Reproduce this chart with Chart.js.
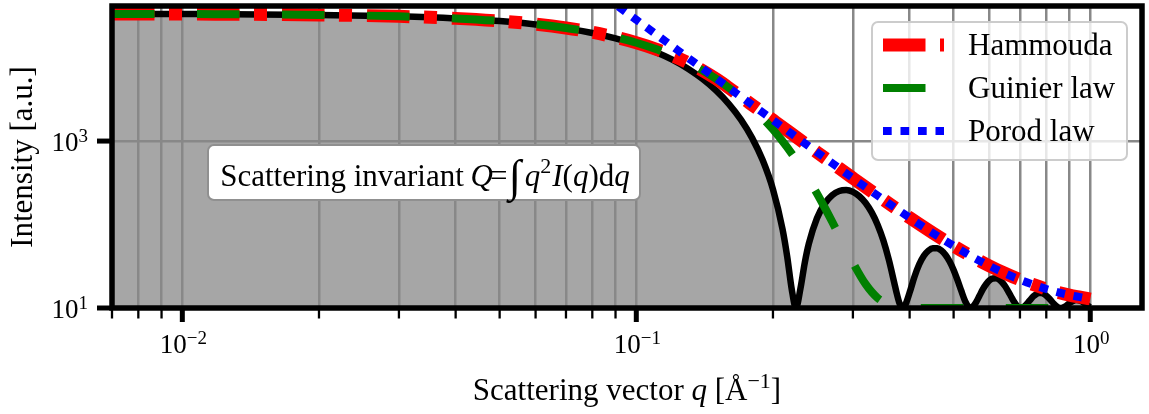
<!DOCTYPE html>
<html>
<head>
<meta charset="utf-8">
<script src="https://cdn.jsdelivr.net/npm/chart.js@4.4.0/dist/chart.umd.min.js"></script>
<style>
  html, body { margin: 0; padding: 0; background: #fff; }
  #wrap { width: 1149px; height: 414px; position: relative; }
</style>
</head>
<body>
<div id="wrap"><canvas id="myChart"></canvas></div>
<script>
// --- 1. Data (q in 1/Å, intensity in a.u.) ---
const qSphere = [0.007, 0.01, 0.02, 0.03, 0.04, 0.05, 0.06, 0.07, 0.08, 0.09, 0.10, 0.11, 0.12, 0.13, 0.14, 0.15,
  0.16, 0.17, 0.18, 0.19, 0.20, 0.21, 0.215, 0.22, 0.2247, 0.23, 0.235, 0.24, 0.25, 0.26, 0.27, 0.28, 0.29, 0.30,
  0.31, 0.32, 0.33, 0.34, 0.35, 0.36, 0.37, 0.375, 0.38, 0.3863, 0.39, 0.40, 0.41, 0.42, 0.43, 0.44, 0.45, 0.46,
  0.47, 0.48, 0.49, 0.50, 0.51, 0.52, 0.53, 0.54, 0.5452, 0.55, 0.56, 0.57, 0.58, 0.59, 0.60, 0.61, 0.62, 0.63,
  0.64, 0.65, 0.66, 0.67, 0.68, 0.69, 0.70, 0.7033, 0.71, 0.72, 0.73, 0.74, 0.75, 0.76, 0.77, 0.78, 0.79, 0.80,
  0.81, 0.82, 0.83, 0.84, 0.85, 0.861, 0.87, 0.88, 0.89, 0.90, 0.91, 0.92, 0.93, 0.94, 0.95, 0.96, 0.97, 0.98,
  0.99, 1.00];
const iSphere = [33389, 33253, 32462, 31180, 29459, 27365, 24979, 22390, 19689, 16965, 14303, 11776, 9446, 7358, 5542, 4014,
  2773, 1804, 1085, 584, 264, 87.5, 41.1, 16.7, 10, 17.3, 34.8, 59.5, 119.1, 178.1, 224.6, 252.0, 258.5, 245.9,
  218.2, 180.9, 139.6, 99.5, 64.7, 37.8, 20.1, 14.7, 11.4, 10, 10.45, 15.3, 23.7, 33.4, 42.2, 48.7, 52.1, 52.0,
  48.8, 43.2, 36.1, 28.6, 21.6, 16.0, 12.1, 10.24, 10, 10.19, 11.62, 14.0, 16.8, 19.4, 21.5, 22.6, 22.7, 21.9,
  20.2, 18.1, 15.75, 13.56, 11.77, 10.57, 10.03, 10, 10.13, 10.75, 11.71, 12.81, 13.84, 14.64, 15.07, 15.10, 14.74, 14.06,
  13.18, 12.23, 11.34, 10.63, 10.17, 10, 10.10, 10.43, 10.90, 11.42, 11.89, 12.25, 12.43, 12.42, 12.23, 11.88, 11.45, 10.99,
  10.57, 10.25];

const qHammouda = [0.007, 0.01, 0.02, 0.03, 0.04, 0.05, 0.06, 0.07, 0.08, 0.09, 0.10, 0.11, 0.12, 0.13, 0.14, 0.15,
  0.1581, 0.17, 0.18, 0.20, 0.22, 0.25, 0.28, 0.30, 0.35, 0.40, 0.45, 0.50, 0.55, 0.60, 0.65, 0.70, 0.75, 0.80,
  0.85, 0.90, 0.95, 1.00];
const iHammouda = [33389, 33253, 32465, 31192, 29494, 27446, 25135, 22654, 20093, 17539, 15067, 12738, 10600, 8680, 6995, 5549,
  4545, 3404, 2711, 1782, 1220, 735.8, 471.2, 360, 198.9, 120.7, 79.1, 55.4, 41.0, 31.9, 25.9, 21.8, 19.0, 16.9,
  15.4, 14.3, 13.5, 12.8];

const qGuinier = [0.007, 0.01, 0.02, 0.03, 0.04, 0.05, 0.06, 0.07, 0.08, 0.09, 0.10, 0.11, 0.12, 0.13, 0.14, 0.15,
  0.16, 0.17, 0.18, 0.19, 0.20, 0.21, 0.22, 0.23, 0.24, 0.25, 0.26, 0.27, 0.28, 0.29, 0.30, 0.32, 0.34, 0.36,
  0.38, 0.40, 0.45, 0.50, 0.60, 0.70, 0.80, 0.90, 1.00];
const iGuinier = [33389, 33253, 32465, 31192, 29494, 27446, 25135, 22654, 20093, 17539, 15067, 12738, 10600, 8680, 6995, 5549,
  4332, 3329, 2518, 1875, 1376, 994, 708, 497, 344, 236, 160, 108.3, 73.3, 50.1, 35.0, 19.3, 13.2, 11.05,
  10.32, 10.09, 10.01, 10, 10, 10, 10, 10, 10];

const qPorod = [0.085, 0.09, 0.10, 0.11, 0.12, 0.13, 0.14, 0.15, 0.16, 0.17, 0.18, 0.20, 0.22, 0.25, 0.28, 0.30,
  0.35, 0.40, 0.45, 0.50, 0.55, 0.60, 0.65, 0.70, 0.75, 0.80, 0.85, 0.90, 0.95, 1.00];
const iPorod = [54320, 43219, 28360, 19373, 13682, 9936, 7390, 5610, 4336, 3404, 2711, 1782, 1220, 735.8, 471.2, 360,
  198.9, 120.7, 79.1, 55.4, 41.0, 31.9, 25.9, 21.8, 19.0, 16.9, 15.4, 14.3, 13.5, 12.8];

const seriesLabels = ['Hammouda', 'Guinier law', 'Porod law'];

// axis ticks
const xGridValues = [0.007, 0.008, 0.009, 0.01, 0.02, 0.03, 0.04, 0.05, 0.06, 0.07, 0.08, 0.09,
  0.1, 0.2, 0.3, 0.4, 0.5, 0.6, 0.7, 0.8, 0.9, 1];
const xMajorValues = [0.01, 0.1, 1];
const xTickExponents = ['\u22122', '\u22121', '0'];
const yMajorValues = [10, 1000];
const yTickExponents = ['1', '3'];

const SERIF = '"Liberation Serif", "DejaVu Serif", serif';

function toPoints(qs, is) {
  return qs.map((q, k) => ({ x: q, y: is[k] }));
}

// --- 2. Text helpers (mixed italic / superscript runs) ---
function fontOf(r) {
  return (r.italic ? 'italic ' : '') + r.size + 'px ' + SERIF;
}

function drawRuns(ctx, runs, x, y, align) {
  let total = 0;
  runs.forEach(r => {
    ctx.font = fontOf(r);
    r.w = ctx.measureText(r.t).width + (r.kern || 0);
    total += r.w;
  });
  let cx = align === 'center' ? x - total / 2 : (align === 'right' ? x - total : x);
  ctx.textAlign = 'left';
  ctx.textBaseline = 'alphabetic';
  runs.forEach(r => {
    ctx.font = fontOf(r);
    ctx.fillText(r.t, cx, y - (r.rise || 0));
    cx += r.w;
  });
}

function roundedBox(ctx, x, y, w, h, r) {
  ctx.beginPath();
  ctx.moveTo(x + r, y);
  ctx.lineTo(x + w - r, y);
  ctx.arcTo(x + w, y, x + w, y + r, r);
  ctx.lineTo(x + w, y + h - r);
  ctx.arcTo(x + w, y + h, x + w - r, y + h, r);
  ctx.lineTo(x + r, y + h);
  ctx.arcTo(x, y + h, x, y + h - r, r);
  ctx.lineTo(x, y + r);
  ctx.arcTo(x, y, x + r, y, r);
  ctx.closePath();
}

// --- 3. Frame, ticks, labels, legend and annotation ---
const decorPlugin = {
  id: 'decor',
  afterDraw(chart) {
    const ctx = chart.ctx;
    const a = chart.chartArea;
    const xs = chart.scales.x;
    const ys = chart.scales.y;
    ctx.save();
    ctx.fillStyle = '#000';
    ctx.strokeStyle = '#000';

    // spines
    ctx.lineWidth = 5.5;
    ctx.lineJoin = 'miter';
    ctx.strokeRect(a.left, a.top, a.right - a.left, a.bottom - a.top);

    // x tick marks
    ctx.lineCap = 'butt';
    xGridValues.forEach(v => {
      const major = xMajorValues.includes(v);
      const px = xs.getPixelForValue(v);
      ctx.lineWidth = major ? 5 : 2.3;
      ctx.beginPath();
      ctx.moveTo(px, a.bottom);
      ctx.lineTo(px, a.bottom + (major ? 14 : 10.5));
      ctx.stroke();
    });
    // y tick marks
    yMajorValues.forEach(v => {
      const py = ys.getPixelForValue(v);
      ctx.lineWidth = 5;
      ctx.beginPath();
      ctx.moveTo(a.left, py);
      ctx.lineTo(a.left - 15, py);
      ctx.stroke();
    });

    // tick labels
    xMajorValues.forEach((v, k) => {
      drawRuns(ctx, [{ t: '10', size: 27 }, { t: xTickExponents[k], size: 19, rise: 9 }],
        xs.getPixelForValue(v) + 1, 353, 'center');
    });
    yMajorValues.forEach((v, k) => {
      drawRuns(ctx, [{ t: '10', size: 27 }, { t: yTickExponents[k], size: 19, rise: 9 }],
        88, ys.getPixelForValue(v) + 10, 'right');
    });

    // axis titles
    drawRuns(ctx, [
      { t: 'Scattering vector ', size: 31 },
      { t: 'q', size: 31, italic: true },
      { t: ' [\u00c5', size: 31 },
      { t: '\u22121', size: 22, rise: 12 },
      { t: ']', size: 31 }
    ], (a.left + a.right) / 2, 400, 'center');

    ctx.save();
    ctx.translate(32, (a.top + a.bottom) / 2);
    ctx.rotate(-Math.PI / 2);
    drawRuns(ctx, [{ t: 'Intensity [a.u.]', size: 31 }], 0, 0, 'center');
    ctx.restore();

    // annotation box
    roundedBox(ctx, 208, 145, 432, 55, 6);
    ctx.fillStyle = '#fff';
    ctx.fill();
    ctx.lineWidth = 2;
    ctx.strokeStyle = '#909090';
    ctx.stroke();
    ctx.fillStyle = '#000';
    drawRuns(ctx, [
      { t: 'Scattering invariant ', size: 31, kern: -1 },
      { t: 'Q', size: 31, italic: true, kern: -3 },
      { t: '=', size: 31, kern: 1 },
      { t: '\u222b', size: 45, rise: -5, kern: 4 },
      { t: 'q', size: 31, italic: true },
      { t: '2', size: 22, rise: 13, kern: 1 },
      { t: 'I', size: 31, italic: true },
      { t: '(', size: 31 },
      { t: 'q', size: 31, italic: true },
      { t: ')d', size: 31 },
      { t: 'q', size: 31, italic: true }
    ], 425, 186, 'center');

    // legend
    roundedBox(ctx, 872, 22, 255, 138, 6);
    ctx.fillStyle = 'rgba(255,255,255,0.8)';
    ctx.fill();
    ctx.lineWidth = 2;
    ctx.strokeStyle = '#cccccc';
    ctx.stroke();
    const rows = [45, 88, 131];
    chart.data.datasets.slice(1).forEach((ds, k) => {
      ctx.save();
      ctx.beginPath();
      ctx.rect(883, rows[k] - 10, 61, 20);
      ctx.clip();
      ctx.strokeStyle = ds.borderColor;
      ctx.lineWidth = ds.borderWidth;
      ctx.setLineDash(ds.borderDash || []);
      ctx.lineCap = 'butt';
      ctx.beginPath();
      ctx.moveTo(883, rows[k]);
      ctx.lineTo(944, rows[k]);
      ctx.stroke();
      ctx.restore();
      ctx.fillStyle = '#000';
      drawRuns(ctx, [{ t: ds.label, size: 31 }], 968, rows[k] + 10, 'left');
    });

    ctx.restore();
  }
};

// --- 4. Chart ---
window.onload = function () {
  const ctx = document.getElementById('myChart').getContext('2d');
  new Chart(ctx, {
    type: 'line',
    data: {
      datasets: [
        {
          label: 'Sphere',
          data: toPoints(qSphere, iSphere),
          borderColor: '#000000',
          borderWidth: 6.5,
          backgroundColor: '#a6a6a6',
          fill: 'start',
          order: 3
        },
        {
          label: seriesLabels[0],
          data: toPoints(qHammouda, iHammouda),
          borderColor: '#ff0000',
          borderWidth: 13,
          borderDash: [42.5, 14.5, 13, 15],
          fill: false,
          order: 2
        },
        {
          label: seriesLabels[1],
          data: toPoints(qGuinier, iGuinier),
          borderColor: '#008000',
          borderWidth: 8,
          borderDash: [42.5, 42.5],
          fill: false,
          order: 1
        },
        {
          label: seriesLabels[2],
          data: toPoints(qPorod, iPorod),
          borderColor: '#0000ff',
          borderWidth: 8,
          borderDash: [8.7, 8.8],
          fill: false,
          order: 0
        }
      ]
    },
    options: {
      responsive: true,
      maintainAspectRatio: false,
      animation: false,
      devicePixelRatio: 1,
      layout: { padding: { left: 112, right: 7, top: 6, bottom: 106 } },
      datasets: {
        line: { pointRadius: 0, cubicInterpolationMode: 'monotone', clip: 0, borderCapStyle: 'butt' }
      },
      plugins: {
        legend: { display: false },
        tooltip: { enabled: false },
        title: { display: false },
        filler: { drawTime: 'beforeDraw' }
      },
      scales: {
        x: {
          type: 'logarithmic',
          min: 0.007,
          max: 1.3,
          afterBuildTicks: (axis) => { axis.ticks = xGridValues.map(v => ({ value: v })); },
          afterFit: (axis) => { axis.height = 0; },
          ticks: { display: false },
          grid: { color: '#888888', lineWidth: 2.5, drawTicks: false },
          border: { display: false }
        },
        y: {
          type: 'logarithmic',
          min: 10,
          max: 41500,
          afterBuildTicks: (axis) => { axis.ticks = yMajorValues.map(v => ({ value: v })); },
          afterFit: (axis) => { axis.width = 0; },
          ticks: { display: false },
          grid: { color: '#888888', lineWidth: 2.5, drawTicks: false },
          border: { display: false }
        }
      }
    },
    plugins: [decorPlugin]
  });
};
</script>
</body>
</html>
